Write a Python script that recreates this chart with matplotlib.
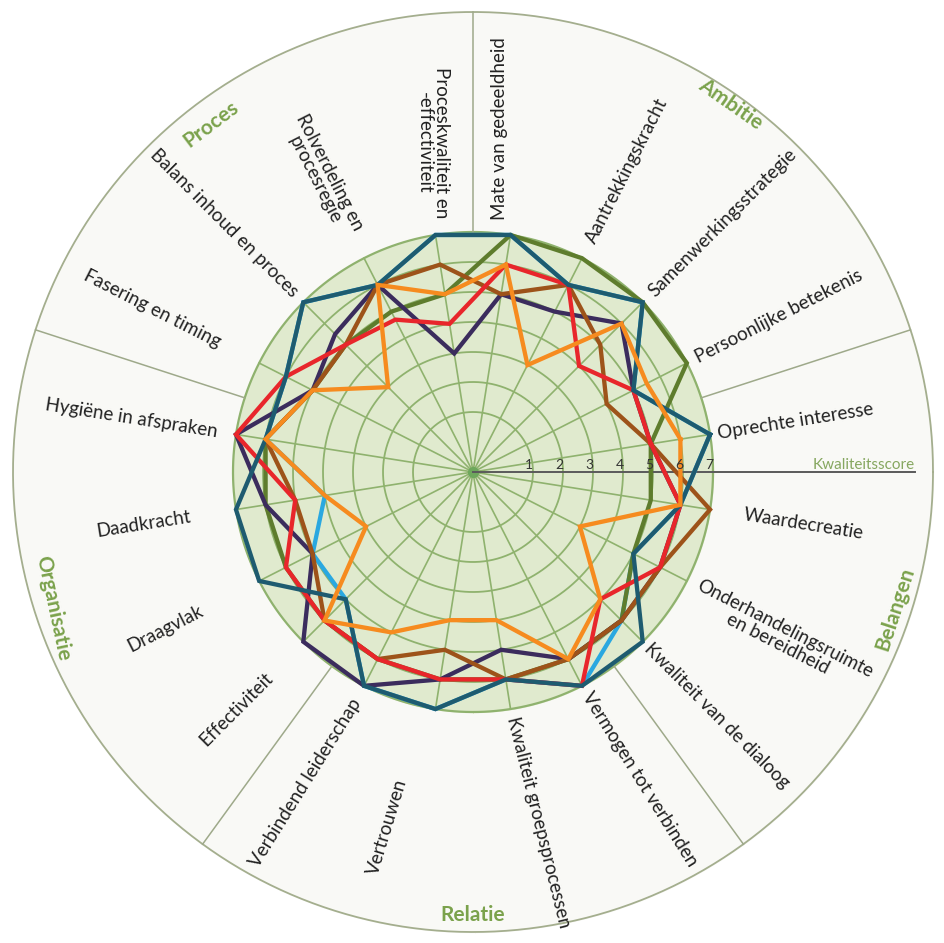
import numpy as np
import matplotlib
matplotlib.use('Agg')
import matplotlib.pyplot as plt

plt.rcParams['font.family'] = ['Lato', 'DejaVu Sans']

# categories, counter-clockwise starting just above the score axis
categories = [
    'Oprechte interesse', 'Persoonlijke betekenis', 'Samenwerkingsstrategie',
    'Aantrekkingskracht', 'Mate van gedeeldheid', 'Proceskwaliteit en\n-effectiviteit',
    'Rolverdeling en\nprocesregie', 'Balans inhoud en proces', 'Fasering en timing',
    'Hygiëne in afspraken', 'Daadkracht', 'Draagvlak', 'Effectiviteit',
    'Verbindend leiderschap', 'Vertrouwen', 'Kwaliteit groepsprocessen',
    'Vermogen tot verbinden', 'Kwaliteit van de dialoog',
    'Onderhandelingsruimte\nen bereidheid', 'Waardecreatie',
]
sections = ['Ambitie', 'Proces', 'Organisatie', 'Relatie', 'Belangen']
score_ticks = [1, 2, 3, 4, 5, 6, 7]

teal = [7, 5, 7, 6, 7, 7, 6, 7, 6, 6, 7, 7, 5, 7, 7, 6, 7, 7, 5, 6]
lightblue = [7, 5, 7, 6, 7, 7, 6, 7, 6, 6, 4, 5, 5, 7, 7, 6, 7, 6, 5, 6]
olive = [5, 7, 7, 7, 7, 5, 5, 5, 5, 6, 6, 6, 6, 6, 6, 6, 6, 6, 5, 5]
purple = [5, 5, 6, 5, 5, 3, 6, 5.5, 5, 7, 6, 5, 7, 7, 6, 5, 6, 6, 6, 6]
brown = [5, 4, 5, 6, 5, 6, 6, 5, 5, 6, 5, 5, 6, 6, 5, 6, 6, 6, 6, 7]
red = [5, 5, 4, 6, 6, 4, 4.7, 5, 6, 7, 5, 6, 6, 6, 6, 6, 7, 5, 6, 6]
orange = [6, 5.5, 6, 3, 6, 5, 6, 3, 5, 6, 4, 3, 6, 5, 4, 4, 6, 5, 3, 6]

# layout (pixels on the 945x943 canvas)
W, H = 945, 943
CX, CY = 473, 472
PX = 30.0          # pixels per score unit, score 0 sits at 30 px
R_AX = 465
label_px = [248, 250, 252, 258, 253, 257, 268, 251, 284, 259,
            286, 304, 287, 256, 315, 248, 249, 246, 252, 274]
label_dang = [0, 0, 0, 0, 3, 0, 0, 0, 0, 0, 0, 0, 0, 0, -4, 0, 0, 0, -1.5, 0]
label_drot = [0, 0, 0, 0, 9, -9, 0, 0, 0, 0, 0, 0, 0, -5, -8, 5, 5, 0, 0, 0]


def r_of(px):
    return px / PX - 1


fig = plt.figure(figsize=(W / 100, H / 100), dpi=100)
ax = fig.add_axes([(CX - R_AX) / W, (H - CY - R_AX) / H, 2 * R_AX / W, 2 * R_AX / H],
                  projection='polar')
ax.set_ylim(-1, r_of(R_AX))
ax.axis('off')

th = np.linspace(0, 2 * np.pi, 500)
r_out = r_of(460)
angles = np.deg2rad(9 + 18 * np.arange(len(categories)))

# background rings
ax.fill_between(th, 7, r_out, color='#f9f9f6', zorder=0)
ax.fill_between(th, -1, 7, color='#e0eace', zorder=0)
ax.plot(th, np.full_like(th, r_out), color='#a4ae8e', lw=1.3, zorder=1)
for v in score_ticks:
    ax.plot(th, np.full_like(th, v), color='#8fb26e', lw=1.3 if v < 7 else 1.6, zorder=1)
for a in angles:
    ax.plot([a, a], [-1, 7], color='#8fb26e', lw=1.2, zorder=1)
ax.plot([0], [-1], 'o', color='#6ea85c', ms=7, zorder=2)

# section dividers
for d in [18, 90, 162, 234, 306]:
    ax.plot([np.deg2rad(d)] * 2, [7, r_out], color='#9ea98a', lw=1.1, zorder=1)

# score axis
ax.plot([0, 0], [-1, r_of(442)], color='#5a5a5a', lw=1.4, zorder=2)
ax.text(0, r_of(442), 'Kwaliteitsscore', ha='right', va='bottom', fontsize=11,
        color='#86a760', zorder=3)
for v in score_ticks:
    ax.annotate(str(v), xy=(0, v - 0.12), xytext=(0, 1), textcoords='offset points',
                ha='center', va='bottom', fontsize=10, color='#333333', zorder=6)

# series
series = [(lightblue, '#2aa8e0'), (olive, '#5e7c2d'), (purple, '#3b2c5d'),
          (brown, '#9d531a'), (red, '#e8262b'), (teal, '#1e5b70'), (orange, '#f68b1f')]
ang_closed = np.append(angles, angles[0])
for vals, col in series:
    ax.plot(ang_closed, np.append(vals, vals[0]), color=col, lw=3.1,
            solid_joinstyle='miter', zorder=4)

# category labels
for a, lab, px, da, dr in zip(angles, categories, label_px, label_dang, label_drot):
    deg = np.rad2deg(a)
    if np.cos(a) > 0:
        rot = deg if deg < 90 else deg - 360
        ha = 'left'
    else:
        rot = deg - 180
        ha = 'right'
    ax.text(np.deg2rad(deg + da), r_of(px), lab, rotation=rot + dr, rotation_mode='anchor',
            ha=ha, va='center', multialignment='center', fontsize=13.5,
            color='#222222', linespacing=1.0)

# section titles
for name, deg, px, dr in zip(sections, [55, 127, 198, 270, 342], [449, 436, 441, 443, 444],
                             [0, 0, -6, 0, 0]):
    rot = deg - 90 if deg < 180 else deg + 90
    ax.text(np.deg2rad(deg), r_of(px), name, rotation=rot + dr, rotation_mode='anchor',
            ha='center', va='center', fontsize=15, fontweight='bold', color='#7ba24c')

fig.savefig('out.png', dpi=100, facecolor='white')
